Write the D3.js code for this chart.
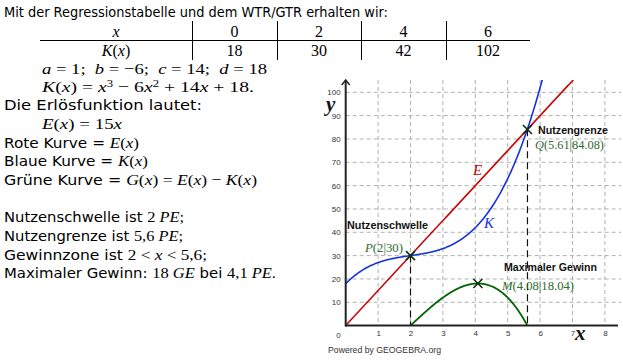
<!DOCTYPE html>
<html><head><meta charset="utf-8">
<script src="https://cdn.jsdelivr.net/npm/d3@7"></script>
<style>
html,body{margin:0;padding:0;background:#fff;}
svg{display:block;}
</style></head>
<body>
<script>
// ---- data ----
const tableX = ["0","2","4","6"];
const tableK = ["18","30","42","102"];
const coeffs = [1,-6,14,18];          // a, b, c, d  for K(x)
const revenueSlope = 15;              // E(x) = 15x
const xTicks = [1,2,3,4,5,6,7,8];
const yTicks = [10,20,30,40,50,60,70,80,90,100];
const breakEven = [2, 5.61];
const pointNames = ["P","Q","M"];
const pointX = [2, 5.61, 4.08];
const pointY = [30, 84.08, 18.04];

const W = 623, H = 360;
const svg = d3.select("body").append("svg").attr("width", W).attr("height", H);

const SANS = "'DejaVu Sans', Verdana, sans-serif";
const MATH = "'Liberation Serif', 'DejaVu Serif', serif";
const NB = "\u00a0";

// ---------- left text ----------
function line(x, y, parts, endX, size) {
  const t = svg.append("text").attr("x", x).attr("y", y).attr("font-size", size || 14).attr("fill", "#000");
  parts.forEach(p => {
    const ts = t.append("tspan").text(p.t.replace(/ /g, NB));
    if (p.m) { ts.attr("font-family", MATH).attr("font-size", (size||14)+1.5); if (p.i) ts.attr("font-style","italic"); }
    else ts.attr("font-family", SANS);
    if (p.sup) ts.attr("baseline-shift","super").attr("font-size", 10);
  });
  if (endX) t.attr("textLength", endX - x).attr("lengthAdjust", "spacingAndGlyphs");
  return t;
}
const S = s => ({t:s});
const M = s => ({t:s, m:1});
const I = s => ({t:s, m:1, i:1});

line(4, 17, [S("Mit der Regressionstabelle und dem WTR/GTR erhalten wir:")], 388);

// table
const colEdges = [40, 192, 277, 361, 446, 530];
svg.append("line").attr("x1", colEdges[0]).attr("x2", colEdges[5]).attr("y1", 40.5).attr("y2", 40.5).attr("stroke","#000").attr("stroke-width",1.2);
colEdges.slice(1,5).forEach(e => svg.append("line").attr("x1", e+0.5).attr("x2", e+0.5).attr("y1", 21).attr("y2", 60).attr("stroke","#000").attr("stroke-width",1));
const cx = i => (colEdges[i] + colEdges[i+1]) / 2;
svg.append("text").attr("x", cx(0)).attr("y", 37).attr("text-anchor","middle").attr("font-family",MATH).attr("font-style","italic").attr("font-size",16).text("x");
const kx = svg.append("text").attr("x", cx(0)).attr("y", 55.5).attr("text-anchor","middle").attr("font-family",MATH).attr("font-size",16);
kx.append("tspan").attr("font-style","italic").text("K"); kx.append("tspan").text("("); kx.append("tspan").attr("font-style","italic").text("x"); kx.append("tspan").text(")");
tableX.forEach((v,i) => svg.append("text").attr("x", cx(i+1)).attr("y", 37).attr("text-anchor","middle").attr("font-family",MATH).attr("font-size",16).text(v));
tableK.forEach((v,i) => svg.append("text").attr("x", cx(i+1)).attr("y", 55.5).attr("text-anchor","middle").attr("font-family",MATH).attr("font-size",16).text(v));

line(42, 74, [I("a"),M(" = "+coeffs[0]+";  "),I("b"),M(" = −"+Math.abs(coeffs[1])+";  "),I("c"),M(" = "+coeffs[2]+";  "),I("d"),M(" = "+coeffs[3])], 267);
line(42, 92, [I("K"),M("("),I("x"),M(") = "),I("x"),{t:"3",m:1,sup:1},M(" − 6"),I("x"),{t:"2",m:1,sup:1},M(" + 14"),I("x"),M(" + 18.")], 254);
line(4, 110, [S("Die Erlösfunktion lautet:")], 202);
line(42, 129, [I("E"),M("("),I("x"),M(") = 15"),I("x")], 122);
line(4, 147.5, [S("Rote Kurve = "),I("E"),M("("),I("x"),M(")")], 139);
line(4, 166, [S("Blaue Kurve = "),I("K"),M("("),I("x"),M(")")], 148);
line(4, 184.5, [S("Grüne Kurve = "),I("G"),M("("),I("x"),M(") = "),I("E"),M("("),I("x"),M(") − "),I("K"),M("("),I("x"),M(")")], 257);
line(4, 222, [S("Nutzenschwelle ist "),M("2 "),I("PE"),M(";")], 184);
line(4, 241, [S("Nutzengrenze ist "),M("5,6 "),I("PE"),M(";")], 183);
line(4, 259.5, [S("Gewinnzone ist "),M("2 < "),I("x"),M(" < 5,6;")], 207);
line(4, 277.5, [S("Maximaler Gewinn: "),M("18 "),I("GE"),S(" bei "),M("4,1 "),I("PE"),M(".")], 276);

// ---------- chart ----------
const x0 = 345.7, y0 = 325.6, topY = 80, rightX = 621;
const xs = d3.scaleLinear().domain([0, 8]).range([x0, x0 + 8*32.4]);
const ys = d3.scaleLinear().domain([0, 100]).range([y0, y0 - 100*2.333]);

const g = svg.append("g");
// grid
g.selectAll(".vg").data(xTicks).join("line")
  .attr("x1", d => xs(d)).attr("x2", d => xs(d)).attr("y1", topY).attr("y2", y0)
  .attr("stroke", "#b0b0b0").attr("stroke-width", 1).attr("stroke-dasharray", "4,3");
g.selectAll(".hg").data(yTicks).join("line")
  .attr("x1", x0).attr("x2", rightX).attr("y1", d => ys(d)).attr("y2", d => ys(d))
  .attr("stroke", "#b0b0b0").attr("stroke-width", 1).attr("stroke-dasharray", "4,3");

// tick labels via d3 axes
const xAxis = d3.axisBottom(xs).tickValues(xTicks).tickSize(0).tickPadding(5);
const xg = g.append("g").attr("transform", `translate(0,${y0})`).call(xAxis);
xg.select(".domain").remove();
xg.selectAll("text").attr("font-family","'Liberation Sans', Arial, sans-serif").attr("font-size",8).attr("fill","#333");
const yAxis = d3.axisLeft(ys).tickValues(yTicks).tickSize(0).tickPadding(5);
const yg = g.append("g").attr("transform", `translate(${x0},0)`).call(yAxis);
yg.select(".domain").remove();
yg.selectAll("text").attr("font-family","'Liberation Sans', Arial, sans-serif").attr("font-size",8).attr("fill","#333");
g.append("text").attr("x", x0-5).attr("y", y0+12).attr("text-anchor","end").attr("font-family","'Liberation Sans', Arial, sans-serif").attr("font-size",8).attr("fill","#333").text("0");

// clip
svg.append("clipPath").attr("id","clip").append("rect").attr("x", x0).attr("y", topY).attr("width", rightX - x0).attr("height", y0 - topY);
const plot = g.append("g").attr("clip-path","url(#clip)");

const K = x => coeffs[0]*x*x*x + coeffs[1]*x*x + coeffs[2]*x + coeffs[3];
const E = x => revenueSlope * x;
const G = x => E(x) - K(x);
const lineGen = f => d3.line().x(d => xs(d)).y(d => ys(f(d)));

// dashed verticals
breakEven.forEach((bx, i) => {
  g.append("line").attr("x1", xs(bx)).attr("x2", xs(bx)).attr("y1", ys(E(bx))).attr("y2", y0)
    .attr("stroke","#111").attr("stroke-width",1.2).attr("stroke-dasharray","7,4");
});

plot.append("path").datum(d3.range(0, 8.001, 0.05)).attr("d", lineGen(E)).attr("fill","none").attr("stroke","#cc0000").attr("stroke-width",1.5);
plot.append("path").datum(d3.range(0, 6.5, 0.02)).attr("d", lineGen(K)).attr("fill","none").attr("stroke","#1533dd").attr("stroke-width",1.6);
const gx = d3.range(breakEven[0], breakEven[1], 0.02).concat([breakEven[1]]);
plot.append("path").datum(gx).attr("d", lineGen(G)).attr("fill","none").attr("stroke","#006400").attr("stroke-width",1.8);

// axes lines
g.append("line").attr("x1", x0).attr("x2", rightX - 3).attr("y1", y0).attr("y2", y0).attr("stroke","#222").attr("stroke-width",2);
g.append("line").attr("x1", x0).attr("x2", x0).attr("y1", y0+1).attr("y2", topY).attr("stroke","#222").attr("stroke-width",2);
g.append("path").attr("d", `M${x0-4},${topY+5}L${x0},${topY}L${x0+4},${topY+5}`).attr("fill","none").attr("stroke","#222").attr("stroke-width",1.5);

// crosses
pointNames.forEach((n, i) => {
  g.append("path").attr("transform", `translate(${xs(pointX[i])},${ys(pointY[i])})`)
    .attr("d","M-4.5,-4.5L4.5,4.5M-4.5,4.5L4.5,-4.5").attr("stroke","#0c2f0c").attr("stroke-width",1.6);
});

// labels
const LAB = "'Liberation Sans', Arial, sans-serif";
function lab(x, y, s, endX) {
  return g.append("text").attr("x", x).attr("y", y).attr("font-family", LAB).attr("font-weight","bold").attr("font-size", 10.5).attr("fill","#111")
    .attr("textLength", endX - x).attr("lengthAdjust","spacingAndGlyphs").text(s);
}
lab(347, 229, "Nutzenschwelle", 428);
lab(538, 134, "Nutzengrenze", 608);
lab(504, 271, "Maximaler Gewinn", 597);

function pt(x, y, i, endX) {
  const t = g.append("text").attr("x", x).attr("y", y).attr("font-family", MATH).attr("font-size", 13.5).attr("fill","#2e6b2e")
    .attr("textLength", endX - x).attr("lengthAdjust","spacingAndGlyphs");
  t.append("tspan").attr("font-style","italic").text(pointNames[i]);
  t.append("tspan").text("(" + pointX[i] + "|" + pointY[i] + ")");
}
pt(365, 251.5, 0, 403);
pt(535, 148.5, 1, 604);
pt(502, 290, 2, 574);

g.append("text").attr("x", 473).attr("y", 175).attr("font-family", MATH).attr("font-style","italic").attr("font-size",15).attr("fill","#cc0000").text("E");
g.append("text").attr("x", 484).attr("y", 228).attr("font-family", MATH).attr("font-style","italic").attr("font-size",15).attr("fill","#1533dd").text("K");

g.append("text").attr("x", 326).attr("y", 111).attr("font-family", MATH).attr("font-style","italic").attr("font-weight","bold").attr("font-size",21).attr("fill","#111").text("y");
g.append("text").attr("x", 575).attr("y", 340).attr("font-family", MATH).attr("font-style","italic").attr("font-weight","bold").attr("font-size",21).attr("fill","#111").text("x");

svg.append("text").attr("x", 328).attr("y", 352.5).attr("font-family", LAB).attr("font-size", 9).attr("fill","#333")
  .attr("textLength", 113).attr("lengthAdjust","spacingAndGlyphs").text("Powered by GEOGEBRA.org");
</script>
</body></html>
